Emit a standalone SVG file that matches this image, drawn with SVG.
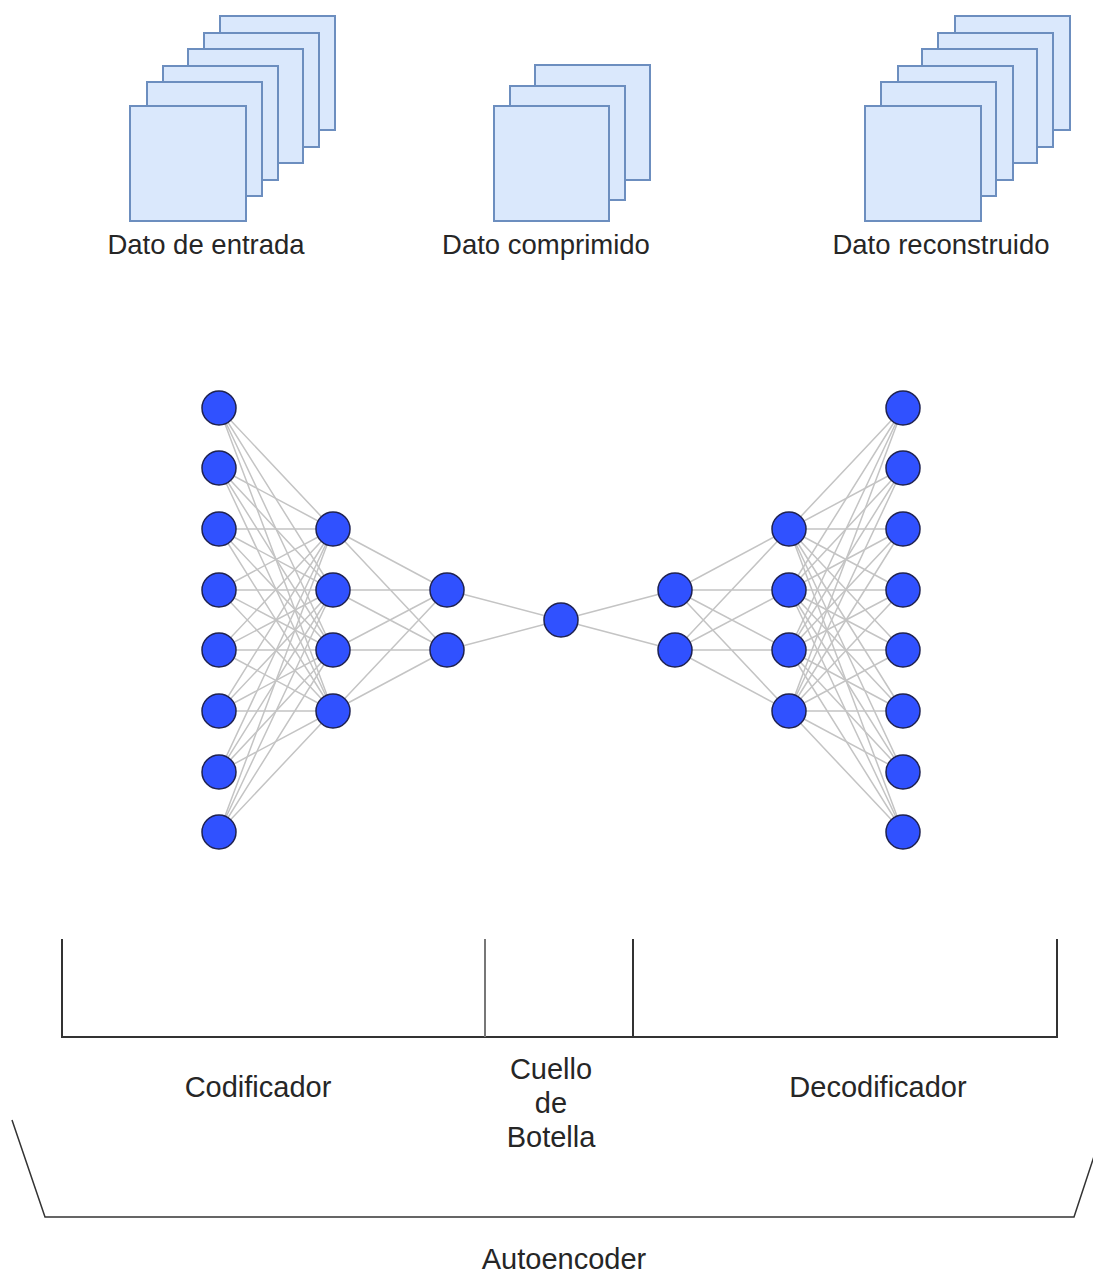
<svg xmlns="http://www.w3.org/2000/svg" width="1093" height="1273" viewBox="0 0 1093 1273">
<style>
.sq{fill:#dae8fc;stroke:#6c8ebf;stroke-width:2}
.lbl{font-family:"Liberation Sans",Arial,sans-serif;fill:#262626;text-anchor:middle}
.top{font-size:27.5px}
.bot{font-size:29px}
.edge{stroke:#c4c4c4;stroke-width:1.5;fill:none}
.node{fill:#3051ff;stroke:#1f2250;stroke-width:1.5}
.br{stroke:#333;stroke-width:2;fill:none}
</style>
<rect width="1093" height="1273" fill="#fff"/>
<g id="dato-entrada">
<rect class="sq" x="220" y="16" width="115" height="114"/>
<rect class="sq" x="204" y="33" width="115" height="114"/>
<rect class="sq" x="188" y="49" width="115" height="114"/>
<rect class="sq" x="163" y="66" width="115" height="114"/>
<rect class="sq" x="147" y="82" width="115" height="114"/>
<rect class="sq" x="130" y="106" width="116" height="115"/>
<text class="lbl top" x="206" y="254">Dato de entrada</text>
</g>
<g id="dato-comprimido">
<rect class="sq" x="535" y="65" width="115" height="115"/>
<rect class="sq" x="510" y="86" width="115" height="114"/>
<rect class="sq" x="494" y="106" width="115" height="115"/>
<text class="lbl top" x="546" y="254">Dato comprimido</text>
</g>
<g id="dato-reconstruido">
<rect class="sq" x="955" y="16" width="115" height="114"/>
<rect class="sq" x="938" y="33" width="115" height="114"/>
<rect class="sq" x="922" y="49" width="115" height="114"/>
<rect class="sq" x="898" y="66" width="115" height="114"/>
<rect class="sq" x="881" y="82" width="115" height="114"/>
<rect class="sq" x="865" y="106" width="116" height="115"/>
<text class="lbl top" x="941" y="254">Dato reconstruido</text>
</g>
<g id="connectors">
<!-- L1 (x219, 8 nodes) to L2 (x333, 4 nodes) -->
<g class="edge">
<path d="M219 408L333 529M219 408L333 590M219 408L333 650M219 408L333 711"/>
<path d="M219 468L333 529M219 468L333 590M219 468L333 650M219 468L333 711"/>
<path d="M219 529L333 529M219 529L333 590M219 529L333 650M219 529L333 711"/>
<path d="M219 590L333 529M219 590L333 590M219 590L333 650M219 590L333 711"/>
<path d="M219 650L333 529M219 650L333 590M219 650L333 650M219 650L333 711"/>
<path d="M219 711L333 529M219 711L333 590M219 711L333 650M219 711L333 711"/>
<path d="M219 772L333 529M219 772L333 590M219 772L333 650M219 772L333 711"/>
<path d="M219 832L333 529M219 832L333 590M219 832L333 650M219 832L333 711"/>
<!-- L2 to L3 -->
<path d="M333 529L447 590M333 529L447 650M333 590L447 590M333 590L447 650M333 650L447 590M333 650L447 650M333 711L447 590M333 711L447 650"/>
<!-- L3 to center -->
<path d="M447 590L561 620M447 650L561 620"/>
<!-- center to L5 -->
<path d="M561 620L675 590M561 620L675 650"/>
<!-- L5 to L6 -->
<path d="M675 590L789 529M675 590L789 590M675 590L789 650M675 590L789 711M675 650L789 529M675 650L789 590M675 650L789 650M675 650L789 711"/>
<!-- L6 to L7 -->
<path d="M789 529L903 408M789 529L903 468M789 529L903 529M789 529L903 590M789 529L903 650M789 529L903 711M789 529L903 772M789 529L903 832"/>
<path d="M789 590L903 408M789 590L903 468M789 590L903 529M789 590L903 590M789 590L903 650M789 590L903 711M789 590L903 772M789 590L903 832"/>
<path d="M789 650L903 408M789 650L903 468M789 650L903 529M789 650L903 590M789 650L903 650M789 650L903 711M789 650L903 772M789 650L903 832"/>
<path d="M789 711L903 408M789 711L903 468M789 711L903 529M789 711L903 590M789 711L903 650M789 711L903 711M789 711L903 772M789 711L903 832"/>
</g>
</g>
<g id="layer-input">
<circle class="node" cx="219" cy="408" r="17"/>
<circle class="node" cx="219" cy="468" r="17"/>
<circle class="node" cx="219" cy="529" r="17"/>
<circle class="node" cx="219" cy="590" r="17"/>
<circle class="node" cx="219" cy="650" r="17"/>
<circle class="node" cx="219" cy="711" r="17"/>
<circle class="node" cx="219" cy="772" r="17"/>
<circle class="node" cx="219" cy="832" r="17"/>
</g>
<g id="layer-enc1">
<circle class="node" cx="333" cy="529" r="17"/>
<circle class="node" cx="333" cy="590" r="17"/>
<circle class="node" cx="333" cy="650" r="17"/>
<circle class="node" cx="333" cy="711" r="17"/>
</g>
<g id="layer-enc2">
<circle class="node" cx="447" cy="590" r="17"/>
<circle class="node" cx="447" cy="650" r="17"/>
</g>
<g id="layer-bottleneck">
<circle class="node" cx="561" cy="620" r="17"/>
</g>
<g id="layer-dec1">
<circle class="node" cx="675" cy="590" r="17"/>
<circle class="node" cx="675" cy="650" r="17"/>
</g>
<g id="layer-dec2">
<circle class="node" cx="789" cy="529" r="17"/>
<circle class="node" cx="789" cy="590" r="17"/>
<circle class="node" cx="789" cy="650" r="17"/>
<circle class="node" cx="789" cy="711" r="17"/>
</g>
<g id="layer-output">
<circle class="node" cx="903" cy="408" r="17"/>
<circle class="node" cx="903" cy="468" r="17"/>
<circle class="node" cx="903" cy="529" r="17"/>
<circle class="node" cx="903" cy="590" r="17"/>
<circle class="node" cx="903" cy="650" r="17"/>
<circle class="node" cx="903" cy="711" r="17"/>
<circle class="node" cx="903" cy="772" r="17"/>
<circle class="node" cx="903" cy="832" r="17"/>
</g>
<g id="brackets">
<path class="br" d="M62 939V1037H1057V939"/>
<path d="M485 939V1037" stroke="#777" stroke-width="2"/>
<path class="br" d="M633 939V1037"/>
</g>
<g id="section-labels">
<text class="lbl bot" x="258" y="1097">Codificador</text>
<text class="lbl bot" x="551" y="1079">Cuello</text>
<text class="lbl bot" x="551" y="1113">de</text>
<text class="lbl bot" x="551" y="1147">Botella</text>
<text class="lbl bot" x="878" y="1097">Decodificador</text>
</g>
<g id="autoencoder">
<path d="M12 1120L45 1217H1074L1106 1120" stroke="#333" stroke-width="1.5" fill="none"/>
<text class="lbl bot" x="564" y="1269">Autoencoder</text>
</g>
</svg>
